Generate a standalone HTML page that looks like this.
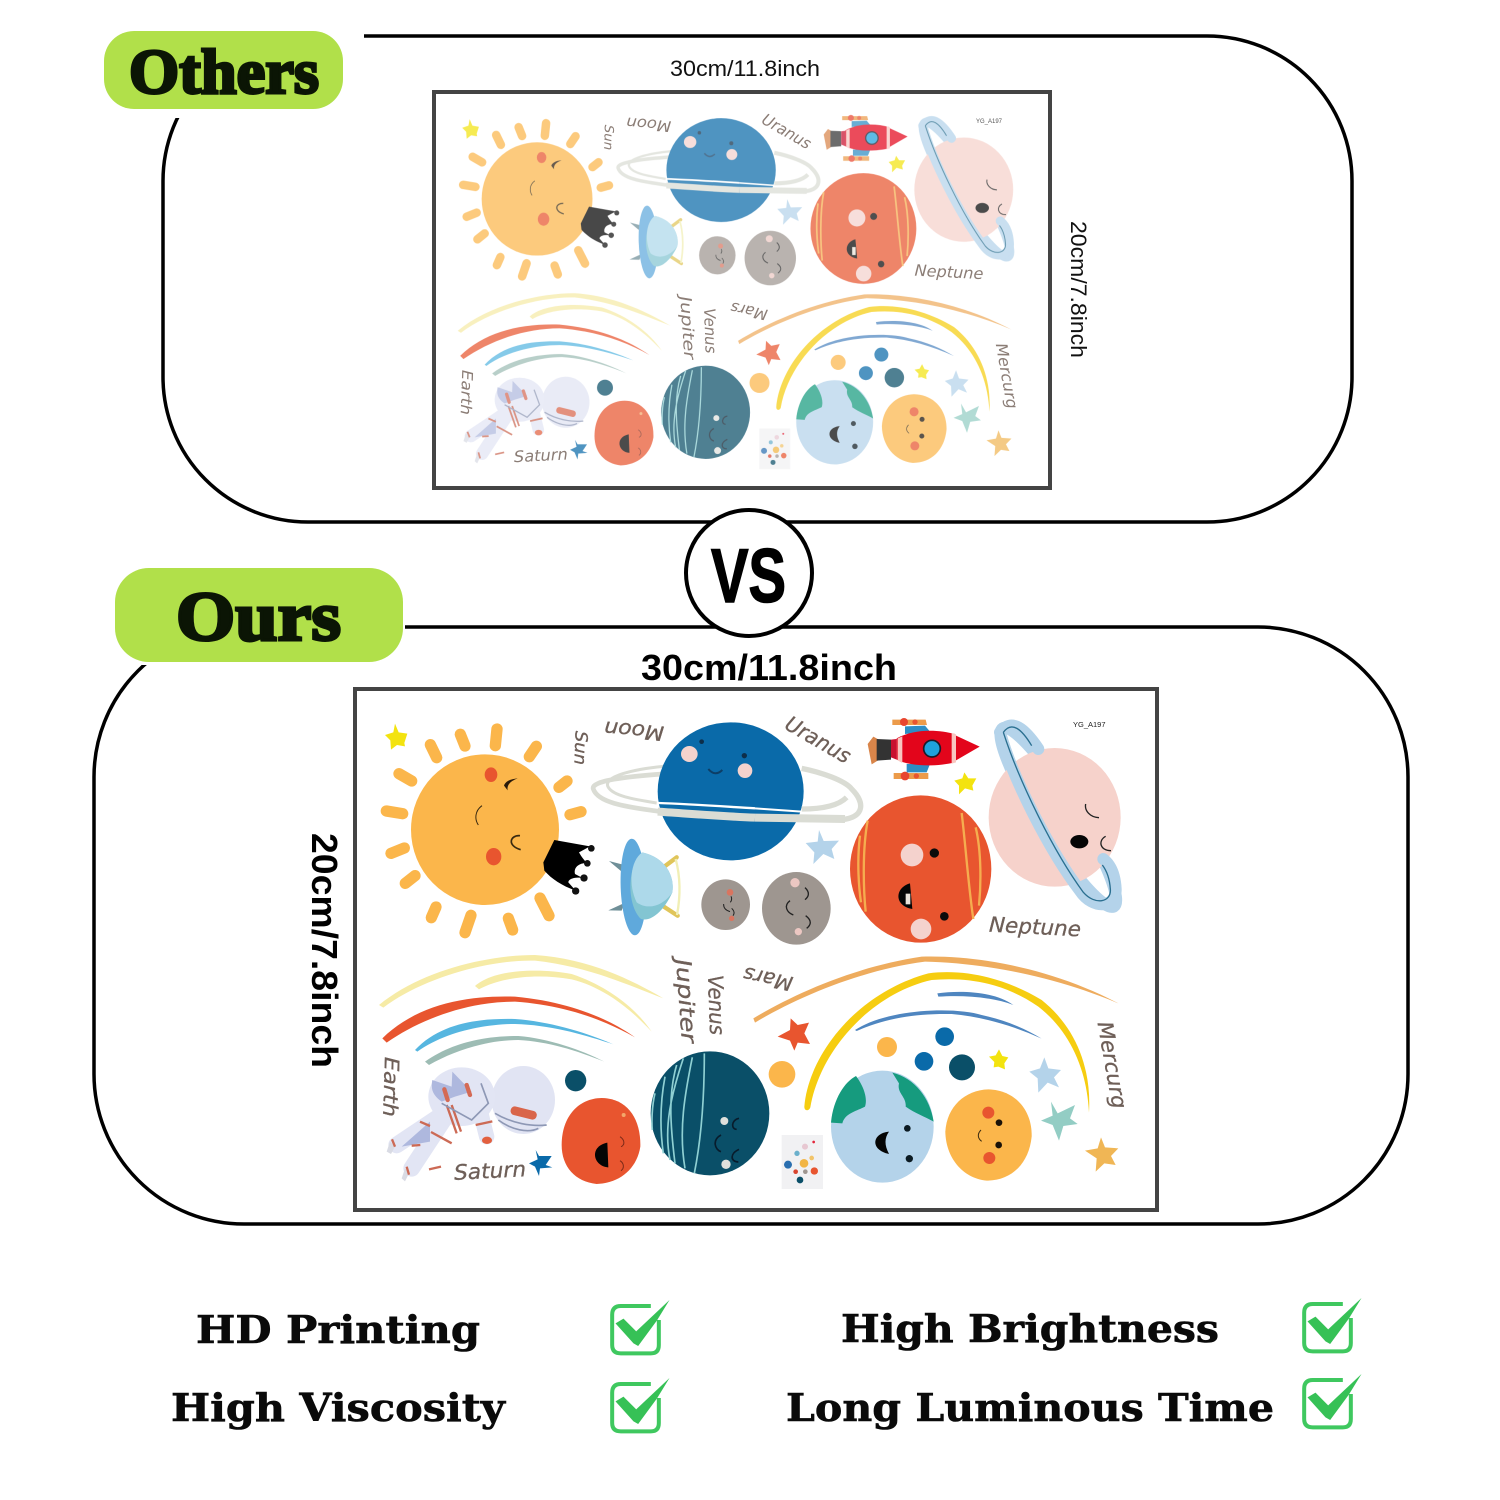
<!DOCTYPE html>
<html><head><meta charset="utf-8"><style>html,body{margin:0;padding:0;background:#fff}svg{display:block}</style></head><body>
<svg xmlns="http://www.w3.org/2000/svg" width="1500" height="1500" viewBox="0 0 1500 1500">
<defs>
<g id="art">
<g transform="translate(355,689) scale(.33333)">
<polygon points="120,104 131,130 157,134 148,162 150,172 126,168 108,182 106,154 90,138 115,130" fill="#f3e30f"/>
<g stroke="#fbb64b" stroke-width="34" stroke-linecap="round" fill="none">
<line x1="426" y1="120" x2="421" y2="170"/><line x1="316" y1="136" x2="330" y2="171"/><line x1="226" y1="167" x2="245" y2="206"/><line x1="132" y1="254" x2="170" y2="276"/><line x1="94" y1="366" x2="143" y2="374"/><line x1="108" y1="493" x2="148" y2="477"/><line x1="151" y1="583" x2="180" y2="560"/><line x1="229" y1="686" x2="243" y2="654"/><line x1="330" y1="731" x2="348" y2="679"/><line x1="460" y1="688" x2="473" y2="723"/><line x1="555" y1="627" x2="582" y2="680"/><line x1="523" y1="203" x2="544" y2="172"/><line x1="612" y1="295" x2="636" y2="276"/><line x1="645" y1="377" x2="678" y2="368"/>
</g>
<ellipse cx="390" cy="422" rx="222" ry="226" fill="#fbb64b"/>
<ellipse cx="408" cy="257" rx="19" ry="22" fill="#e8552f"/><ellipse cx="416" cy="503" rx="23" ry="26" fill="#e8552f"/>
<path d="M488,268 C465,270 450,278 447,290 L458,304 C455,285 470,275 488,268Z" fill="#2a1a0a"/>
<path d="M381,350 C360,365 358,390 370,408" fill="none" stroke="#3a2a10" stroke-width="3"/>
<path d="M495,440 C465,438 455,470 497,482" fill="none" stroke="#3a2a10" stroke-width="5"/>
<path d="M598,453 L705,472 L672,490 C680,505 690,515 695,522 C672,522 655,535 660,555 L685,568 C660,562 640,570 640,580 L662,605 C620,590 590,570 568,545 L565,520Z" fill="#000"/>
<circle cx="709" cy="478" r="10" fill="#111"/><circle cx="697" cy="523" r="10" fill="#111"/><circle cx="687" cy="567" r="11" fill="#111"/><circle cx="662" cy="606" r="11" fill="#111"/>
<path d="M762,516 L808,528 L800,548Z M760,664 L808,642 L800,665Z" fill="#6f8f98"/>
<path d="M925,535 L965,505 M925,652 L968,680" stroke="#e0c55a" stroke-width="13" stroke-linecap="round"/>
<path d="M962,510 C978,570 975,630 966,678" fill="none" stroke="#f1efb5" stroke-width="7"/>
<ellipse cx="835" cy="594" rx="38" ry="145" fill="#5fa9dc" transform="rotate(-2 835 594)"/>
<path d="M862,490 C930,505 960,560 952,610 C930,660 890,700 858,690 C815,650 815,530 862,490Z" fill="#83c5d2"/>
<path d="M862,490 C930,505 960,560 952,610 C925,650 880,665 845,640 C820,590 825,515 862,490Z" fill="#add9ea"/>
<path d="M925,255 C820,262 705,275 715,300 C730,345 830,355 910,367" fill="none" stroke="#dadcd4" stroke-width="14"/>
<path d="M925,232 C840,240 740,262 760,295 C775,320 830,330 905,342" fill="none" stroke="#dadcd4" stroke-width="9"/>
<ellipse cx="1127" cy="307" rx="219" ry="207" fill="#0a6aa9"/>
<ellipse cx="1003" cy="195" rx="25" ry="24" fill="#f4d2cd"/><ellipse cx="1170" cy="245" rx="22" ry="22" fill="#f4d2cd"/>
<circle cx="1040" cy="158" r="7" fill="#0d2e4a"/><circle cx="1168" cy="200" r="8" fill="#0d2e4a"/>
<path d="M1060,240 Q1080,264 1102,243" fill="none" stroke="#0d3e66" stroke-width="6"/>
<path d="M908,368 C1000,374 1100,382 1200,386" stroke="#dadcd4" stroke-width="24" fill="none"/>
<path d="M910,342 C1000,345 1100,352 1200,358" stroke="#fff" stroke-width="7" fill="none"/>
<ellipse cx="1112" cy="647" rx="73" ry="76" fill="#9e9690"/>
<circle cx="1125" cy="610" r="10" fill="#d97560"/><circle cx="1130" cy="688" r="8" fill="#d97560"/>
<path d="M1128,622 C1132,630 1130,635 1126,640 M1106,645 C1105,658 1115,665 1125,668 M1130,658 C1140,668 1138,675 1134,680" fill="none" stroke="#222" stroke-width="3"/>
</g>
<g transform="translate(755,689) scale(.33333)">
<path d="M140,238 C200,250 270,275 290,300 C330,340 330,385 260,392 M140,360 C200,360 250,350 275,325" fill="none" stroke="#dadcd4" stroke-width="16"/>
<path d="M0,386 L270,390" stroke="#dadcd4" stroke-width="24"/>
<path d="M0,358 L140,368" stroke="#fff" stroke-width="6"/>
<path d="M412,92 L512,92 L516,108 L412,108Z M416,252 L520,252 L520,270 L416,270Z" fill="#ec9b4a"/>
<circle cx="447" cy="99" r="12" fill="#e8452f"/><circle cx="450" cy="261" r="13" fill="#e8452f"/><circle cx="480" cy="99" r="8" fill="#e8552f"/><circle cx="484" cy="261" r="8" fill="#e8552f"/>
<path d="M450,135 L450,112 L510,110 L525,128Z M455,225 L525,225 L515,250 L455,250Z" fill="#2d8dc4"/>
<path d="M338,165 L355,143 L368,150 L368,215 L350,226 Z" fill="#d9854a"/>
<path d="M365,150 L408,152 L408,212 L365,215Z" fill="#333"/>
<path d="M408,152 L425,150 L425,212 L408,205Z" fill="#c8102e"/>
<path d="M425,148 C480,118 550,122 600,135 L600,220 C550,232 470,235 425,212Z" fill="#e3051b"/>
<path d="M428,148 L442,142 L442,222 L428,214Z M590,132 L603,136 L603,220 L590,224Z" fill="#f8c6c0"/>
<path d="M603,140 L674,173 L603,214Z" fill="#e3051b"/>
<circle cx="531" cy="179" r="25" fill="#1fa1dc" stroke="#1b1b2a" stroke-width="5"/>
<polygon points="628,250 640,268 664,268 652,290 655,305 630,298 612,316 612,290 598,275 622,268" fill="#f3e30f"/>
<polygon points="192,423 206,456 252,455 230,480 238,510 205,495 175,525 178,490 152,462 188,458" fill="#b4d3ea"/>
<ellipse cx="124" cy="658" rx="103" ry="109" fill="#9e9690"/>
<circle cx="120" cy="581" r="14" fill="#ecc7c2"/><circle cx="130" cy="728" r="11" fill="#ecc7c2"/>
<path d="M150,596 C165,610 162,622 150,632 M105,635 C85,650 95,670 115,678 M152,680 C172,695 168,708 155,718" fill="none" stroke="#222" stroke-width="4"/>
<ellipse cx="497" cy="540" rx="212" ry="221" fill="#e8552f"/>
<path d="M338,395 C322,480 325,600 332,668 M315,440 C305,520 312,600 318,640 M620,372 C632,470 640,590 655,690 M662,415 C680,490 678,590 672,650" fill="none" stroke="#f5ad4f" stroke-width="7"/>
<circle cx="471" cy="498" r="34" fill="#f4d2cd"/><circle cx="498" cy="720" r="31" fill="#f4d2cd"/>
<circle cx="538" cy="492" r="14" fill="#0b0b0b"/><circle cx="568" cy="682" r="13" fill="#0b0b0b"/>
<path d="M465,583 C420,595 415,650 472,660Z" fill="#050505"/><rect x="452" y="614" width="14" height="32" fill="#e9e3da"/>
<ellipse cx="910" cy="385" rx="315" ry="56" fill="none" stroke="#b4d3ea" stroke-width="36" transform="rotate(58 910 385)"/>
<ellipse cx="899" cy="385" rx="198" ry="208" fill="#f6d2cb"/>
<path d="M735,130 C770,85 810,120 850,180 M735,130 C770,260 880,480 975,605 C1015,665 1085,655 1082,600 C1080,560 1070,530 1045,510" fill="none" stroke="#b4d3ea" stroke-width="36" stroke-linecap="round"/>
<path d="M745,130 C770,95 800,120 830,170 M745,130 C790,270 890,480 985,610 C1020,650 1070,640 1066,600 C1064,570 1055,545 1042,528" fill="none" stroke="#2a6f90" stroke-width="4"/>
<ellipse cx="973" cy="458" rx="27" ry="20" fill="#050505"/>
<path d="M992,345 C988,365 1005,385 1032,386 M1052,442 C1028,455 1035,485 1068,485" fill="none" stroke="#222" stroke-width="4"/>
</g>
<g transform="translate(355,950) scale(.33333)">
<path d="M72,165 C200,60 400,15 540,15 C700,25 830,90 925,145 C820,105 700,50 540,32 C400,28 200,85 85,173Z" fill="#f6eba6"/>
<path d="M360,108 C420,55 560,55 650,72 C750,105 840,170 890,245 C820,170 740,110 650,88 C550,70 440,80 372,118Z" fill="#f6eba6"/>
<path d="M82,265 C180,170 320,135 480,140 C640,155 760,205 840,262 C740,205 620,165 480,155 C340,155 200,205 95,278Z" fill="#e8552f"/>
<path d="M180,300 C260,215 380,205 480,207 C590,215 700,250 775,283 C690,255 590,225 480,222 C390,222 270,245 187,305Z" fill="#56b6e0"/>
<path d="M210,335 C300,270 410,258 490,258 C580,265 680,300 748,335 C660,300 580,275 490,270 C400,270 300,300 222,345Z" fill="#9dbcb4"/>
<ellipse cx="505" cy="450" rx="95" ry="102" fill="#e1e4f3"/>
<g stroke="#e2e5f4" stroke-linecap="round" fill="none">
<path d="M275,495 L170,655" stroke-width="50"/>
<path d="M245,505 L125,585" stroke-width="50"/>
<path d="M375,480 L395,560" stroke-width="46"/>
</g>
<ellipse cx="320" cy="440" rx="100" ry="88" fill="#e2e5f4"/>
<path d="M105,575 L95,605 L108,612 L120,590Z M150,655 L140,685 L150,694 L162,670Z" fill="#d9dbe4"/>
<path d="M232,390 C225,425 240,440 260,455 L300,440 L350,425 L292,365 L290,410Z M140,590 L225,515 L225,575Z" fill="#aeb8de"/>
<path d="M268,418 L278,450 M335,405 L345,435" stroke="#d46a55" stroke-width="13" stroke-linecap="round"/>
<path d="M195,515 L225,528 M228,546 L290,580 M362,525 L412,514 M275,465 L305,550 M290,465 L318,545" stroke="#cc6a55" stroke-width="7" fill="none"/>
<path d="M260,460 L350,510 L400,460 L378,400 M420,490 C470,520 530,530 575,525 M430,510 C470,540 520,550 550,535" stroke="#8e98b5" stroke-width="5" fill="none"/>
<rect x="466" y="476" width="80" height="26" rx="12" fill="#d9654a" transform="rotate(14 506 489)"/>
<ellipse cx="396" cy="571" rx="15" ry="11" fill="#e2603f"/>
<path d="M111,568 L120,590 M155,650 L162,674 M170,587 L196,585 M222,658 L258,650" stroke="#cc6a55" stroke-width="7"/>
<circle cx="662" cy="392" r="32" fill="#0a4f68"/>
<path d="M740,444 C820,445 858,510 856,590 C845,660 790,700 725,702 C660,695 620,650 620,585 C620,500 670,445 740,444Z" fill="#e8552f"/>
<path d="M757,578 C700,590 715,650 760,652Z" fill="#050505"/>
<circle cx="806" cy="495" r="6" fill="#f3a76a"/>
<path d="M795,560 C810,570 810,585 798,590 M795,632 C808,640 808,655 798,662" fill="none" stroke="#7c2a18" stroke-width="3"/>
<ellipse cx="1065" cy="490" rx="178" ry="186" fill="#0a4f68"/>
<path d="M900,430 C890,470 890,520 892,540 M930,380 C915,460 915,540 925,610 M985,325 C950,430 925,530 945,630 M1012,322 C990,430 970,540 990,655 M1048,310 C1048,440 1040,560 1018,670 M965,345 C940,430 945,520 960,640" fill="none" stroke="#8fd0d3" stroke-width="5"/>
<circle cx="1108" cy="513" r="12" fill="#dfe0dc"/><circle cx="1113" cy="643" r="14" fill="#dfe0dc"/>
<path d="M1152,505 C1128,510 1128,538 1145,538 M1098,555 C1070,570 1080,600 1098,605 M1152,598 C1125,610 1125,635 1150,636" fill="none" stroke="#081c2c" stroke-width="5"/>
<polygon points="542,600 552,618 590,618 572,645 592,652 555,655 552,678 540,650 522,640 548,628" fill="#0a6aa9"/>
</g>
<g transform="translate(755,950) scale(.33333)">
<path d="M-5,205 C120,130 300,50 500,20 C680,15 900,60 1090,160 C900,80 700,40 510,35 C320,60 130,140 0,218Z" fill="#eeac5e"/>
<path d="M148,470 C160,320 300,130 520,70 C640,55 760,90 860,150 C960,230 1010,350 1002,488 C995,350 940,240 850,170 C750,100 640,80 530,90 C350,130 195,300 166,472 C162,484 148,484 148,470Z" fill="#f6cd10"/>
<path d="M547,130 C620,120 720,125 775,165 C710,140 620,135 550,140Z M300,240 C400,175 600,170 680,195 C750,210 810,235 860,266 C770,225 680,200 590,192 C480,190 390,205 305,243Z" fill="#4f86c0"/>
<polygon points="107,205 128,225 162,218 148,250 165,282 128,278 118,302 105,272 68,260 105,240" fill="#e8552f"/>
<circle cx="81" cy="373" r="40" fill="#fbb64b"/><circle cx="396" cy="291" r="30" fill="#fbb64b"/>
<circle cx="569" cy="260" r="28" fill="#0a6aa9"/><circle cx="507" cy="334" r="28" fill="#0a6aa9"/><circle cx="621" cy="352" r="39" fill="#0a4f68"/>
<polygon points="732,298 742,318 760,322 748,340 750,358 730,350 716,352 718,336 702,320 722,316" fill="#f3e30f"/>
<polygon points="868,322 880,355 918,360 897,382 912,412 878,398 850,428 848,385 823,365 855,355" fill="#b4d3ea"/>
<polygon points="888,455 908,490 960,465 945,505 968,522 925,528 912,572 893,525 858,512 893,497" fill="#93cdc4"/>
<polygon points="1038,562 1050,592 1090,595 1068,618 1082,645 1048,640 1022,665 1025,625 990,602 1028,595" fill="#f0b655"/>
<rect x="80" y="555" width="124" height="162" fill="#f1f1f3"/>
<circle cx="99" cy="644" r="12" fill="#2a6fb0"/><circle cx="147" cy="640" r="13" fill="#f2b544"/><circle cx="178" cy="663" r="11" fill="#e8552f"/><circle cx="135" cy="690" r="10" fill="#0a4f68"/><circle cx="122" cy="665" r="7" fill="#d9452f"/><circle cx="151" cy="665" r="7" fill="#9e9690"/><circle cx="126" cy="610" r="8" fill="#6bb0cc"/><circle cx="170" cy="624" r="7" fill="#f2c46a"/><circle cx="150" cy="590" r="9" fill="#e7c7d1"/><circle cx="176" cy="576" r="4" fill="#e3263a"/>
<ellipse cx="382" cy="530" rx="154" ry="168" fill="#b4d3ea"/>
<path d="M303,378 C270,395 235,445 228,518 L262,520 C270,490 300,485 330,470 C340,440 320,400 303,378Z M412,368 C480,385 525,445 536,515 C510,500 480,490 452,470 C455,440 425,430 432,400Z" fill="#169b7e"/>
<path d="M402,545 C350,550 345,600 402,612 C388,585 388,565 402,545Z" fill="#050505"/>
<circle cx="457" cy="535" r="10" fill="#0b1a22"/><circle cx="463" cy="626" r="11" fill="#0b1a22"/>
<path d="M700,418 C780,420 832,480 830,560 C822,640 770,692 695,692 C620,685 572,620 571,545 C575,470 630,420 700,418Z" fill="#fbb64b"/>
<circle cx="700" cy="488" r="18" fill="#e8552f"/><circle cx="703" cy="624" r="18" fill="#e8552f"/>
<circle cx="732" cy="518" r="10" fill="#1a1208"/><circle cx="731" cy="585" r="10" fill="#1a1208"/>
<path d="M678,540 C666,552 668,565 680,574" fill="none" stroke="#3a2a10" stroke-width="3"/>
</g>
</g>
<g id="ck">
<path d="M160,48 L70,48 Q44,48 44,74 L44,165 Q44,190 70,190 L160,190 Q184,190 184,165 L184,90" fill="none" stroke="#3fc85f" stroke-width="12"/>
<path d="M54,100 L78,86 L116,124 L216,30 L178,92 L122,168 L108,160Z" fill="#36c156"/>
</g>
</defs>

<rect x="163" y="36" width="1189" height="486" rx="145" ry="145" fill="#fff" stroke="#000" stroke-width="3.5"/>
<rect x="94" y="627" width="1314" height="597" rx="150" ry="150" fill="#fff" stroke="#000" stroke-width="3.5"/>
<rect x="96" y="20" width="268" height="98" fill="#fff"/>
<rect x="96" y="560" width="309" height="105" fill="#fff"/>

<rect x="104" y="31" width="239" height="78" rx="30" fill="#b1e04a"/>
<text x="129" y="93" font-family="'Liberation Serif',serif" font-weight="700" font-size="64" fill="#0b1505" stroke="#0b1505" stroke-width="3" textLength="190" lengthAdjust="spacingAndGlyphs">Others</text>
<rect x="115" y="568" width="288" height="94" rx="34" fill="#b1e04a"/>
<text x="176" y="640" font-family="'Liberation Serif',serif" font-weight="700" font-size="70" fill="#0b1505" stroke="#0b1505" stroke-width="3" textLength="165" lengthAdjust="spacingAndGlyphs">Ours</text>

<rect x="434" y="92" width="616" height="396" fill="#fff" stroke="#444" stroke-width="4"/>
<g transform="translate(173.8,-425) scale(.749,.752)" opacity=".72"><use href="#art"/></g>
<g transform="translate(173.8,-425) scale(.749,.752)" font-family="'DejaVu Sans',sans-serif" font-style="oblique" fill="#8b7d76" text-anchor="middle">
<text transform="translate(634,731) rotate(185)" dy="7" font-size="20" textLength="60" lengthAdjust="spacingAndGlyphs">Moon</text>
<text transform="translate(581,748) rotate(92)" dy="6" font-size="17" textLength="34" lengthAdjust="spacingAndGlyphs">Sun</text>
<text transform="translate(818,740) rotate(30)" dy="7" font-size="21" textLength="72" lengthAdjust="spacingAndGlyphs">Uranus</text>
<text transform="translate(1035,927) rotate(3)" dy="7" font-size="21" textLength="92" lengthAdjust="spacingAndGlyphs">Neptune</text>
<text transform="translate(686,1001) rotate(86)" dy="7" font-size="21" textLength="84" lengthAdjust="spacingAndGlyphs">Jupiter</text>
<text transform="translate(716,1005) rotate(88)" dy="7" font-size="21" textLength="60" lengthAdjust="spacingAndGlyphs">Venus</text>
<text transform="translate(768,979) rotate(192)" dy="7" font-size="20" textLength="50" lengthAdjust="spacingAndGlyphs">Mars</text>
<text transform="translate(391,1087) rotate(92)" dy="7" font-size="20" textLength="60" lengthAdjust="spacingAndGlyphs">Earth</text>
<text transform="translate(490,1171) rotate(-3)" dy="7" font-size="21" textLength="72" lengthAdjust="spacingAndGlyphs">Saturn</text>
<text transform="translate(1112,1065) rotate(80)" dy="7" font-size="21" textLength="88" lengthAdjust="spacingAndGlyphs">Mercurg</text>
</g>
<text x="976" y="123" font-family="'Liberation Sans',sans-serif" font-size="6" fill="#555">YG_A197</text>

<rect x="355" y="689" width="802" height="521" fill="#fff" stroke="#444" stroke-width="4"/>
<use href="#art"/>
<g font-family="'DejaVu Sans',sans-serif" font-style="oblique" fill="#6e5f58" stroke="#6e5f58" stroke-width=".3" text-anchor="middle">
<text transform="translate(634,731) rotate(185)" dy="7" font-size="20" textLength="60" lengthAdjust="spacingAndGlyphs">Moon</text>
<text transform="translate(581,748) rotate(92)" dy="6" font-size="17" textLength="34" lengthAdjust="spacingAndGlyphs">Sun</text>
<text transform="translate(818,740) rotate(30)" dy="7" font-size="21" textLength="72" lengthAdjust="spacingAndGlyphs">Uranus</text>
<text transform="translate(1035,927) rotate(3)" dy="7" font-size="21" textLength="92" lengthAdjust="spacingAndGlyphs">Neptune</text>
<text transform="translate(686,1001) rotate(86)" dy="7" font-size="21" textLength="84" lengthAdjust="spacingAndGlyphs">Jupiter</text>
<text transform="translate(716,1005) rotate(88)" dy="7" font-size="21" textLength="60" lengthAdjust="spacingAndGlyphs">Venus</text>
<text transform="translate(768,979) rotate(192)" dy="7" font-size="20" textLength="50" lengthAdjust="spacingAndGlyphs">Mars</text>
<text transform="translate(391,1087) rotate(92)" dy="7" font-size="20" textLength="60" lengthAdjust="spacingAndGlyphs">Earth</text>
<text transform="translate(490,1171) rotate(-3)" dy="7" font-size="21" textLength="72" lengthAdjust="spacingAndGlyphs">Saturn</text>
<text transform="translate(1112,1065) rotate(80)" dy="7" font-size="21" textLength="88" lengthAdjust="spacingAndGlyphs">Mercurg</text>
</g>
<text x="1073" y="727" font-family="'Liberation Sans',sans-serif" font-size="7.5" fill="#222">YG_A197</text>

<circle cx="749" cy="573" r="63" fill="#fff" stroke="#000" stroke-width="4"/>
<text x="711" y="602" font-family="'Liberation Sans',sans-serif" font-weight="700" font-size="76" fill="#000" stroke="#000" stroke-width="1.5" textLength="75" lengthAdjust="spacingAndGlyphs">VS</text>

<text x="670" y="76" font-family="'Liberation Sans',sans-serif" font-size="22" fill="#111" textLength="150" lengthAdjust="spacingAndGlyphs">30cm/11.8inch</text>
<text transform="translate(1071,221) rotate(90)" font-family="'Liberation Sans',sans-serif" font-size="22" fill="#111" textLength="137" lengthAdjust="spacingAndGlyphs">20cm/7.8inch</text>
<text x="641" y="680" font-family="'Liberation Sans',sans-serif" font-weight="700" font-size="36" fill="#000" textLength="256" lengthAdjust="spacingAndGlyphs">30cm/11.8inch</text>
<text transform="translate(312,833) rotate(90)" font-family="'Liberation Sans',sans-serif" font-weight="700" font-size="36" fill="#000" textLength="235" lengthAdjust="spacingAndGlyphs">20cm/7.8inch</text>

<g font-family="'DejaVu Serif',serif" font-weight="700" font-size="38" fill="#0a0a0a" stroke="#0a0a0a" stroke-width=".6">
<text x="196" y="1343" textLength="284" lengthAdjust="spacingAndGlyphs">HD Printing</text>
<text x="171" y="1421" textLength="334" lengthAdjust="spacingAndGlyphs">High Viscosity</text>
<text x="841" y="1342" textLength="378" lengthAdjust="spacingAndGlyphs">High Brightness</text>
<text x="786" y="1421" textLength="488" lengthAdjust="spacingAndGlyphs">Long Luminous Time</text>
</g>
<use href="#ck" transform="translate(597.5,1290) scale(.33333)"/>
<use href="#ck" transform="translate(597.5,1368) scale(.33333)"/>
<use href="#ck" transform="translate(1289.5,1288) scale(.33333)"/>
<use href="#ck" transform="translate(1289.5,1364) scale(.33333)"/>
</svg>
</body></html>
